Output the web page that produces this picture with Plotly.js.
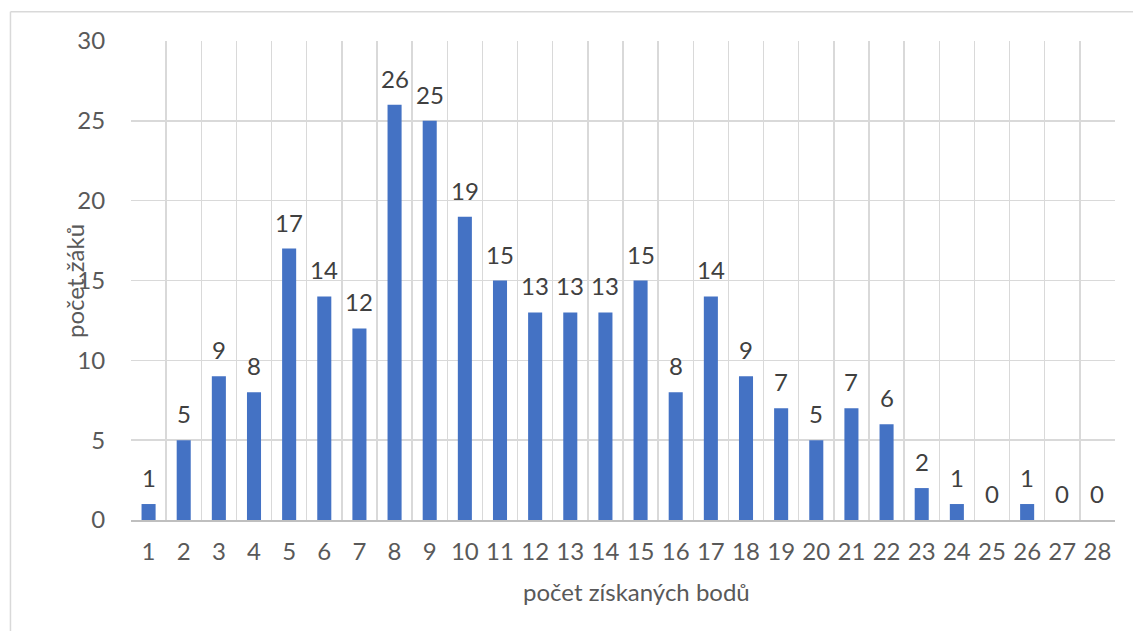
<!DOCTYPE html>
<html>
<head>
<meta charset="utf-8">
<script src="https://cdn.plot.ly/plotly-3.0.1.min.js"></script>
<style>
html,body{margin:0;padding:0;background:#fff;}
#chart{width:1133px;height:631px;}
</style>
</head>
<body>
<div id="chart"></div>
<script>
const categories = ["1","2","3","4","5","6","7","8","9","10","11","12","13","14","15","16","17","18","19","20","21","22","23","24","25","26","27","28"];
const counts = [1,5,9,8,17,14,12,26,25,19,15,13,13,13,15,8,14,9,7,5,7,6,2,1,0,1,0,0];
const xTitle = "počet získaných bodů";
const yTitle = "počet žáků";

const FONT = "Lato, 'Open Sans', sans-serif";
const FS = 24;

const annotations = categories.map((c, i) => ({
  x: i, y: counts[i], xref: "x", yref: "y",
  text: String(counts[i]), showarrow: false,
  yanchor: "bottom", yshift: 10,
  font: {family: FONT, size: FS, color: "#404040"}
}));
annotations.push({
  xref: "paper", yref: "paper", x: 0.514, y: -0.1503,
  xanchor: "center", yanchor: "middle", showarrow: false,
  text: xTitle, font: {family: FONT, size: FS, color: "#595959"}
});
annotations.push({
  xref: "paper", yref: "paper", x: -0.0681, y: 0.499, xshift: 11,
  xanchor: "center", yanchor: "middle", showarrow: false, textangle: -90,
  text: yTitle, font: {family: FONT, size: FS, color: "#595959"}
});

const trace = {
  type: "bar",
  x: categories,
  y: counts,
  marker: {color: "#4472C4"},
  hoverinfo: "x+y"
};

const layout = {
  width: 1133, height: 631,
  margin: {l: 131, r: 18, t: 41, b: 111},
  paper_bgcolor: "#ffffff",
  plot_bgcolor: "#ffffff",
  bargap: 0.6,
  showlegend: false,
  font: {family: FONT, size: FS, color: "#595959"},
  xaxis: {
    type: "category",
    range: [-0.5, categories.length - 0.5],
    tickson: "boundaries",
    tickangle: 0,
    showgrid: true, gridcolor: "#d9d9d9", gridwidth: 1.5,
    showline: true, linecolor: "#bfbfbf", linewidth: 1.5,
    ticks: "outside", ticklen: 22, tickcolor: "rgba(0,0,0,0)",
    ticklabelstandoff: 10,
    tickfont: {family: FONT, size: FS, color: "#595959"},
    zeroline: false, fixedrange: true, automargin: false
  },
  yaxis: {
    range: [0, 30], dtick: 5, tick0: 0,
    showgrid: true, gridcolor: "#d9d9d9", gridwidth: 1.5,
    showline: false, zeroline: false,
    ticks: "outside", ticklen: 20, tickcolor: "rgba(0,0,0,0)",
    tickfont: {family: FONT, size: FS, color: "#595959"},
    fixedrange: true, automargin: false
  },
  annotations: annotations,
  shapes: [
    {type: "line", xref: "paper", yref: "paper", x0: -0.1225, x1: 1.02, y0: 1.0612, y1: 1.0612, line: {color: "#d9d9d9", width: 1.5}},
    {type: "line", xref: "paper", yref: "paper", x0: -0.1225, x1: -0.1225, y0: 1.0612, y1: -0.25, line: {color: "#d9d9d9", width: 1.5}}
  ]
};

Plotly.newPlot("chart", [trace], layout, {displayModeBar: false, staticPlot: true});
</script>
</body>
</html>
